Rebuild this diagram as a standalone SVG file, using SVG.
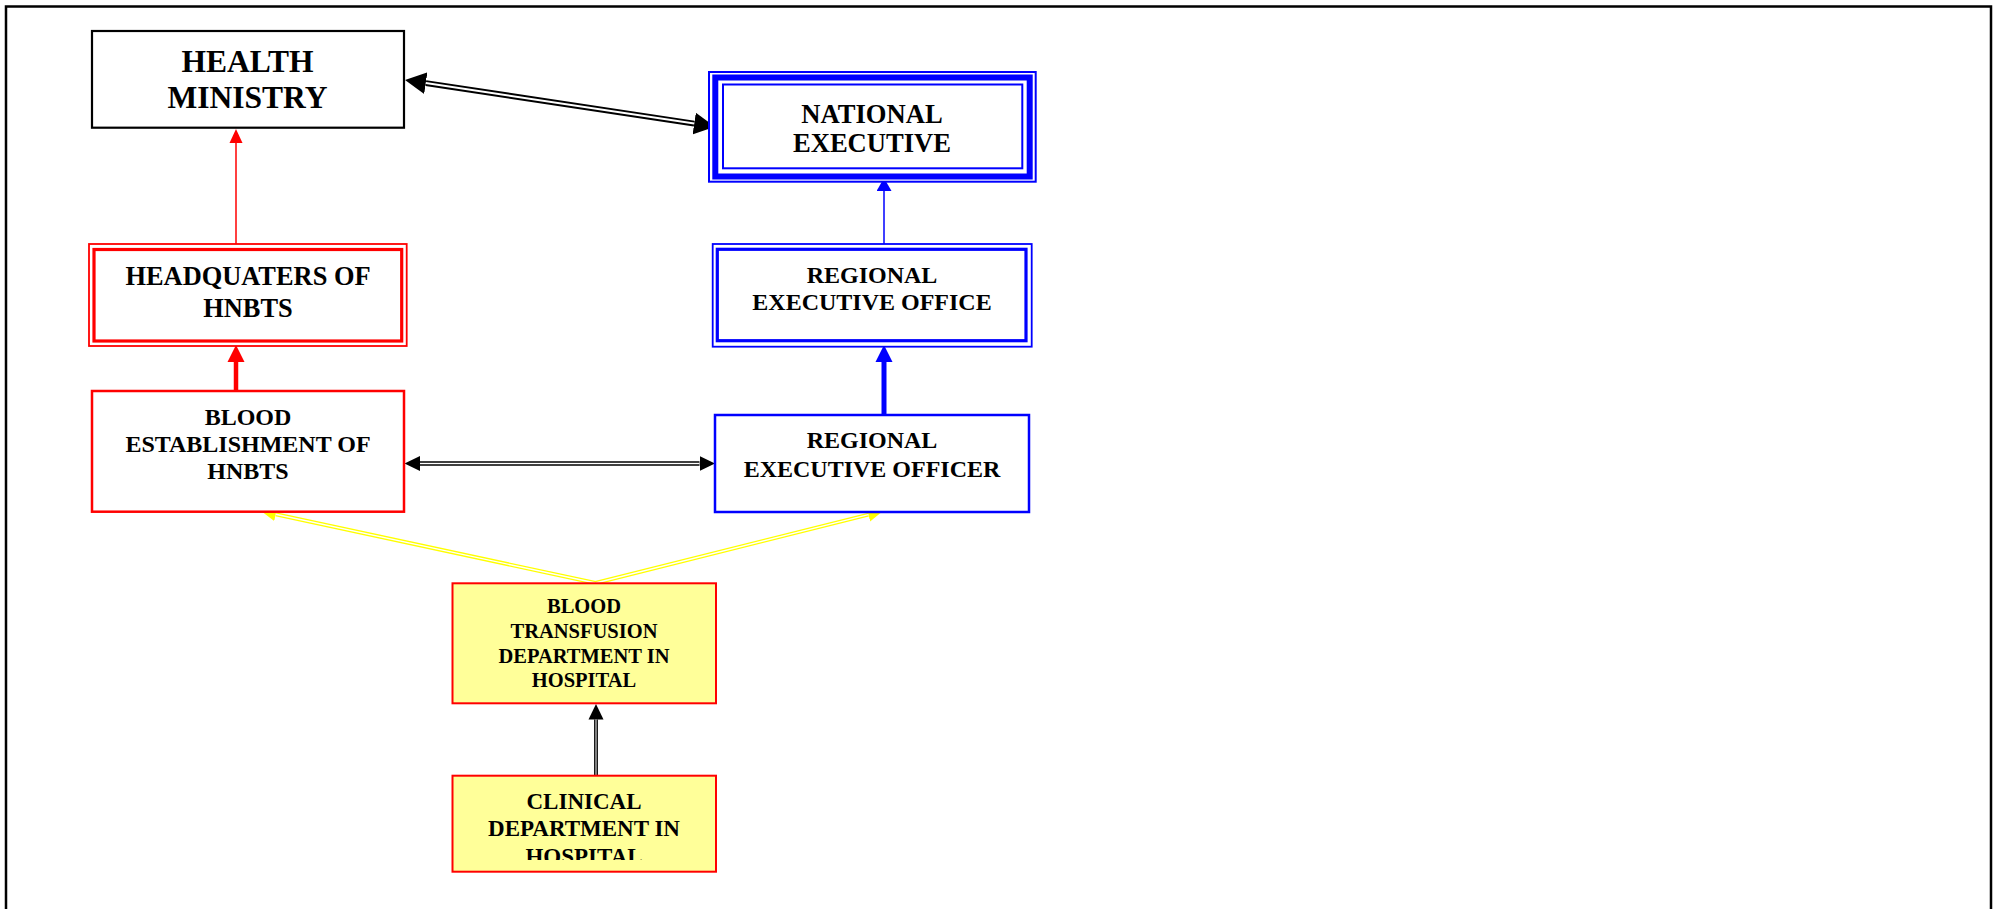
<svg xmlns="http://www.w3.org/2000/svg" width="1997" height="909" viewBox="0 0 1997 909">
<style>
  text { font-family: "Liberation Serif", "Times New Roman", serif; font-weight: bold; fill: #000; text-anchor: middle; }
  .frame { fill: none; stroke: #000; stroke-width: 2.5; }
  .box { fill: #fff; }
  .red { stroke: #FF0000; }
  .blue { stroke: #0000FF; }
  .yel { fill: #FFFF99; stroke: #FF0000; stroke-width: 2; }
  .dblk { fill: none; stroke: #000; }
  .dwht { fill: none; stroke: #fff; }
  .dyel { fill: none; stroke: #FFFF00; stroke-width: 4; }
</style>
<defs>
  <marker id="bigBlack" markerUnits="userSpaceOnUse" markerWidth="22" markerHeight="22" refX="0" refY="11" orient="auto-start-reverse" viewBox="0 0 22 22">
    <path d="M0,0 L21,11 L0,22 Z" fill="#000"/>
  </marker>
  <marker id="midBlack" markerUnits="userSpaceOnUse" markerWidth="16" markerHeight="16" refX="0" refY="7.5" orient="auto-start-reverse" viewBox="0 0 16 15">
    <path d="M0,0 L15.5,7.5 L0,15 Z" fill="#000"/>
  </marker>
  <marker id="redThin" markerUnits="userSpaceOnUse" markerWidth="14" markerHeight="14" refX="0" refY="7" orient="auto" viewBox="0 0 14 14">
    <path d="M0,0.5 L14,7 L0,13.5 Z" fill="#FF0000"/>
  </marker>
  <marker id="blueThin" markerUnits="userSpaceOnUse" markerWidth="14" markerHeight="15" refX="0" refY="7.5" orient="auto" viewBox="0 0 14 15">
    <path d="M0,0 L13,7.5 L0,15 Z" fill="#0000FF"/>
  </marker>
  <marker id="redThick" markerUnits="userSpaceOnUse" markerWidth="18" markerHeight="18" refX="0" refY="9" orient="auto" viewBox="0 0 18 18">
    <path d="M0,0.5 L17,9 L0,17.5 Z" fill="#FF0000"/>
  </marker>
  <marker id="blueThick" markerUnits="userSpaceOnUse" markerWidth="18" markerHeight="18" refX="0" refY="9" orient="auto" viewBox="0 0 18 18">
    <path d="M0,0.5 L17,9 L0,17.5 Z" fill="#0000FF"/>
  </marker>
  <marker id="yelHead" markerUnits="userSpaceOnUse" markerWidth="16" markerHeight="15" refX="0" refY="7" orient="auto" viewBox="0 0 16 14">
    <path d="M0,0 L15,7 L0,14 Z" fill="#FFFF00"/>
  </marker>
  <clipPath id="cdClip">
    <rect x="452" y="776" width="264" height="84"/>
  </clipPath>
</defs>

<rect class="frame" x="6" y="6.5" width="1985" height="920"/>

<g id="connectors">
  <!-- Health Ministry <-> National Executive -->
  <path class="dblk" stroke-width="6" d="M425.8,83.1 L694.2,123.6" marker-start="url(#bigBlack)" marker-end="url(#bigBlack)"/>
  <path class="dwht" stroke-width="2" d="M425.8,83.1 L694.2,123.6"/>
  <!-- HQ -> Health Ministry -->
  <path fill="none" stroke="#FF0000" stroke-width="1.5" d="M236,244 L236,143" marker-end="url(#redThin)"/>
  <!-- Regional Executive Office -> National Executive -->
  <path fill="none" stroke="#0000FF" stroke-width="1.5" d="M884,244 L884,191" marker-end="url(#blueThin)"/>
  <!-- Blood Establishment -> HQ -->
  <path fill="none" stroke="#FF0000" stroke-width="4.5" d="M236,391 L236,362" marker-end="url(#redThick)"/>
  <!-- Regional Executive Officer -> Regional Executive Office -->
  <path fill="none" stroke="#0000FF" stroke-width="5" d="M884,415 L884,362" marker-end="url(#blueThick)"/>
  <!-- Blood Establishment <-> Regional Executive Officer -->
  <path class="dblk" stroke-width="4.5" d="M420,463.5 L699.5,463.5" marker-start="url(#midBlack)" marker-end="url(#midBlack)"/>
  <path class="dwht" stroke-width="1.5" d="M420,463.5 L699.5,463.5"/>
  <!-- BTD -> Blood Establishment (yellow) -->
  <path class="dyel" d="M595.5,583 L275.7,514.2" marker-end="url(#yelHead)"/>
  <path class="dwht" stroke-width="1.4" d="M595.5,583 L275.7,514.2"/>
  <!-- BTD -> Regional Executive Officer (yellow) -->
  <path class="dyel" d="M595.5,583 L868.4,514.6" marker-end="url(#yelHead)"/>
  <path class="dwht" stroke-width="1.4" d="M595.5,583 L868.4,514.6"/>
  <!-- Clinical -> BTD -->
  <path class="dblk" stroke-width="3.8" d="M596,775 L596,719.5" marker-end="url(#midBlack)"/>
  <path class="dwht" stroke-width="1" d="M596,775 L596,719.5"/>
</g>

<g id="health-ministry">
  <rect class="box" x="92" y="31" width="312" height="96.7" stroke="#000" stroke-width="2.2"/>
  <text x="247.5" y="71.7" font-size="31.5">HEALTH</text>
  <text x="247.5" y="108.3" font-size="31.5">MINISTRY</text>
</g>

<g id="national-executive">
  <rect class="box blue" x="709" y="72" width="326.7" height="109.7" stroke-width="2"/>
  <rect fill="none" class="blue" x="715.3" y="77.5" width="314.4" height="99" stroke-width="6"/>
  <rect fill="none" class="blue" x="723" y="84.5" width="299.3" height="83.8" stroke-width="2"/>
  <text x="872" y="122.7" font-size="26.6">NATIONAL</text>
  <text x="872" y="152.3" font-size="26.6">EXECUTIVE</text>
</g>

<g id="headquarters">
  <rect class="box red" x="89" y="244" width="317.7" height="102" stroke-width="1.8"/>
  <rect fill="none" class="red" x="94" y="249.5" width="307.7" height="91.5" stroke-width="3.2"/>
  <text x="248" y="285" font-size="26.4">HEADQUATERS OF</text>
  <text x="248" y="316.7" font-size="26.4">HNBTS</text>
</g>

<g id="regional-executive-office">
  <rect class="box blue" x="712.7" y="244" width="319" height="102.7" stroke-width="1.8"/>
  <rect fill="none" class="blue" x="717.3" y="249.3" width="308.7" height="91.4" stroke-width="3.2"/>
  <text x="872" y="282.7" font-size="24">REGIONAL</text>
  <text x="872" y="310" font-size="24">EXECUTIVE OFFICE</text>
</g>

<g id="blood-establishment">
  <rect class="box red" x="92" y="391" width="312" height="120.7" stroke-width="2.5"/>
  <text x="248" y="425" font-size="24">BLOOD</text>
  <text x="248" y="452.3" font-size="24">ESTABLISHMENT OF</text>
  <text x="248" y="479.3" font-size="24">HNBTS</text>
</g>

<g id="regional-executive-officer">
  <rect class="box blue" x="715" y="415" width="314" height="97" stroke-width="2.5"/>
  <text x="872" y="448.4" font-size="24">REGIONAL</text>
  <text x="872" y="477" font-size="24">EXECUTIVE OFFICER</text>
</g>

<g id="blood-transfusion-department">
  <rect class="yel" x="452.5" y="583.3" width="263.5" height="120"/>
  <text x="584" y="613.3" font-size="20.5">BLOOD</text>
  <text x="584" y="638.3" font-size="20.5">TRANSFUSION</text>
  <text x="584" y="662.7" font-size="20.5">DEPARTMENT IN</text>
  <text x="584" y="687.3" font-size="20.5">HOSPITAL</text>
</g>

<g id="clinical-department">
  <rect class="yel" x="452.5" y="775.7" width="263.5" height="96"/>
  <g clip-path="url(#cdClip)">
    <text x="584" y="809" font-size="23">CLINICAL</text>
    <text x="584" y="836" font-size="23">DEPARTMENT IN</text>
    <text x="584" y="864" font-size="23">HOSPITAL</text>
  </g>
</g>
</svg>
